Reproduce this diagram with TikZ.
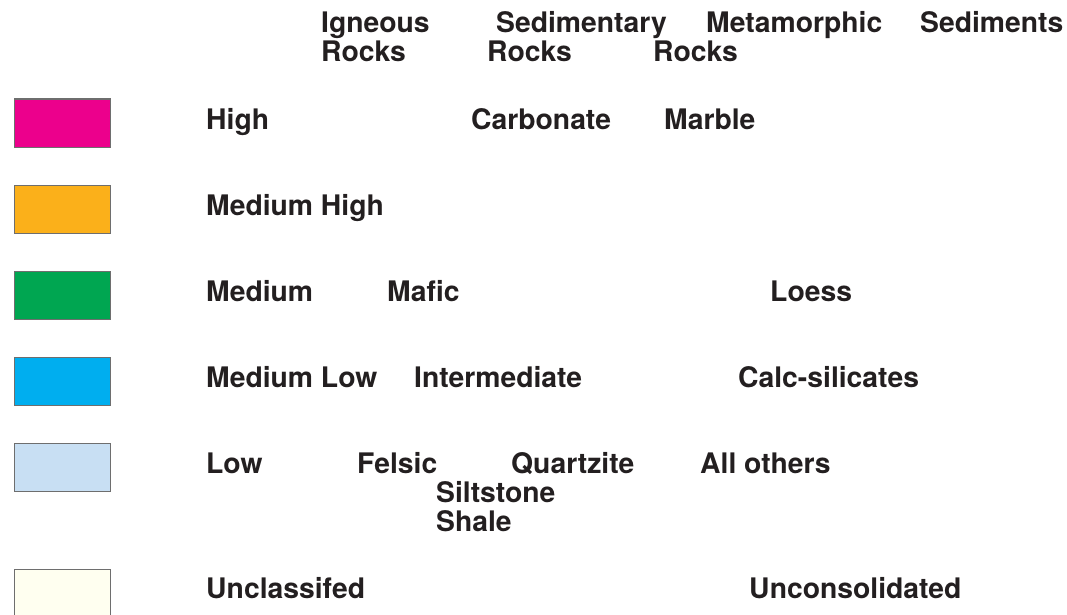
\documentclass[tikz,border=0pt]{standalone}
\usepackage{fontspec}
\setmainfont{TeX Gyre Heros}
\definecolor{txtgray}{HTML}{231F20}
\definecolor{edgegray}{HTML}{6E6E6E}
\definecolor{cHigh}{HTML}{EC008C}
\definecolor{cMedHigh}{HTML}{FBB01A}
\definecolor{cMed}{HTML}{00A651}
\definecolor{cMedLow}{HTML}{00AEEF}
\definecolor{cLow}{HTML}{C8DFF3}
\definecolor{cNone}{HTML}{FFFFF0}
\begin{document}
\begin{tikzpicture}[
        x=1pt,
        y=-1pt,
        font=\fontsize{28.3}{29}\selectfont\bfseries,
        % legend swatch
        swatch/.style={
            rectangle,
            draw=edgegray,
            line width=1.5pt,
            minimum width=96pt,
            minimum height=48pt,
            inner sep=0pt,
            anchor=north west
        },
        % text placed by its baseline
        label_text/.style={
            anchor=base west,
            inner sep=0pt,
            text=txtgray
        }
    ]
    \useasboundingbox (0,0) rectangle (1067,615);

    % --- 1. column headers ---
    \node (ign1) [label_text] at (321,33) {Igneous};
    \node (ign2) [label_text] at (321,62) {Rocks};
    \node (sed1) [label_text] at (496,33) {Sedimentary};
    \node (sed2) [label_text] at (487,62) {Rocks};
    \node (met1) [label_text] at (706,33) {Metamorphic};
    \node (met2) [label_text] at (653,62) {Rocks};
    \node (sedm) [label_text] at (920,33) {Sediments};

    % --- 2. swatches ---
    \node (swHigh)    [swatch, fill=cHigh]    at (13.5,98.5)  {};
    \node (swMedHigh) [swatch, fill=cMedHigh] at (13.5,184.5) {};
    \node (swMed)     [swatch, fill=cMed]     at (13.5,270.5) {};
    \node (swMedLow)  [swatch, fill=cMedLow]  at (13.5,356.5) {};
    \node (swLow)     [swatch, fill=cLow]     at (13.5,442.5) {};
    \node (swNone)    [swatch, fill=cNone]    at (13.5,568.5) {};

    % --- 3. rows ---
    % High
    \node (lHigh)  [label_text] at (206,129) {High};
    \node (carb)   [label_text] at (471,129) {Carbonate};
    \node (marb)   [label_text] at (664,129) {Marble};

    % Medium High
    \node (lMedHigh) [label_text] at (206,215) {Medium High};

    % Medium
    \node (lMed)   [label_text] at (206,301) {Medium};
    \node (mafic)  [label_text] at (387,301) {Mafic};
    \node (loess)  [label_text] at (770,301) {Loess};

    % Medium Low
    \node (lMedLow) [label_text] at (206,387) {Medium Low};
    \node (inter)   [label_text] at (414,387) {Intermediate};
    \node (calc)    [label_text] at (738,387) {Calc-silicates};

    % Low
    \node (lLow)   [label_text] at (206,473) {Low};
    \node (felsic) [label_text] at (357,473) {Felsic};
    \node (quartz) [label_text] at (511,473) {Quartzite};
    \node (others) [label_text] at (700,473) {All others};
    \node (silt)   [label_text] at (436,502) {Siltstone};
    \node (shale)  [label_text] at (436,531) {Shale};

    % Unclassified
    \node (lNone)  [label_text] at (206,598) {Unclassifed};
    \node (uncon)  [label_text] at (749,598) {Unconsolidated};

\end{tikzpicture}
\end{document}
